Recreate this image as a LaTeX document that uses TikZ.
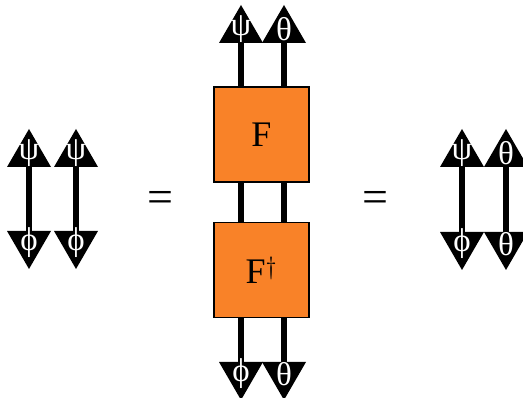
\documentclass[tikz,border=0pt]{standalone}
\usepackage{fontspec}
\setmainfont{Liberation Serif}
\definecolor{boxorange}{RGB}{249,130,40}
\newcommand\uptri[2]{\fill (#1-22,#2) -- (#1,#2-38) -- (#1+22,#2) -- cycle;}
\newcommand\dntri[2]{\fill (#1-22,#2) -- (#1,#2+38) -- (#1+22,#2) -- cycle;}
\begin{document}
\begin{tikzpicture}[x=1pt,y=-1pt,
  wire/.style={line width=5.5pt},
  lab/.style={text=white,font=\fontsize{33}{33}\selectfont,inner sep=0pt},
  fbox/.style={draw=black,line width=1.5pt,fill=boxorange,minimum width=95pt,minimum height=95pt,inner sep=0pt,font=\fontsize{36}{36}\selectfont},
  eq/.style={font=\fontsize{46}{46}\selectfont,inner sep=0pt}]
\useasboundingbox (0,0) rectangle (523,398);
% ---- left side
\coordinate (la) at (29,167);
\coordinate (lb) at (76,167);
\coordinate (la2) at (29,231);
\coordinate (lb2) at (76,231);
\draw[wire] (la) -- (la2);
\draw[wire] (lb) -- (lb2);
\uptri{29}{167}\uptri{76}{167}
\dntri{29}{231}\dntri{76}{231}
\node[lab] (lpsi1) at (29,153) {ψ};
\node[lab] (lpsi2) at (76,153) {ψ};
\node[lab] (lphi1) at (29,243) {ϕ};
\node[lab] (lphi2) at (76,243) {ϕ};
% ---- equals
\node[eq] (eq1) at (160,202) {=};
\node[eq] (eq2) at (375,202) {=};
% ---- middle
\node[fbox] (F) at (261.5,134.5) {F};
\node[fbox] (Fd) at (261.5,270) {F$^{\dagger}$};
\coordinate (ma) at (241,43);
\coordinate (mb) at (284,43);
\coordinate (ma2) at (241,362);
\coordinate (mb2) at (284,362);
\draw[wire] (ma) -- (ma |- F.north);
\draw[wire] (mb) -- (mb |- F.north);
\draw[wire] (F.south -| ma) -- (Fd.north -| ma);
\draw[wire] (F.south -| mb) -- (Fd.north -| mb);
\draw[wire] (Fd.south -| ma) -- (ma2);
\draw[wire] (Fd.south -| mb) -- (mb2);
\uptri{241}{43}\uptri{284}{43}
\dntri{241}{362}\dntri{284}{362}
\node[lab] (mpsi) at (241,29) {ψ};
\node[lab] (mth1) at (284,29) {θ};
\node[lab] (mphi) at (241,374) {ϕ};
\node[lab] (mth2) at (284,374) {θ};
% ---- right side
\coordinate (ra) at (462,167);
\coordinate (rb) at (506,167);
\coordinate (ra2) at (462,232);
\coordinate (rb2) at (506,232);
\draw[wire] (ra) -- (ra2);
\draw[wire] (rb) -- (rb2);
\uptri{462}{167}\uptri{506}{167}
\dntri{462}{232}\dntri{506}{232}
\node[lab] (rpsi) at (462,153) {ψ};
\node[lab] (rth1) at (506,153) {θ};
\node[lab] (rphi) at (462,244) {ϕ};
\node[lab] (rth2) at (506,244) {θ};
\end{tikzpicture}
\end{document}
